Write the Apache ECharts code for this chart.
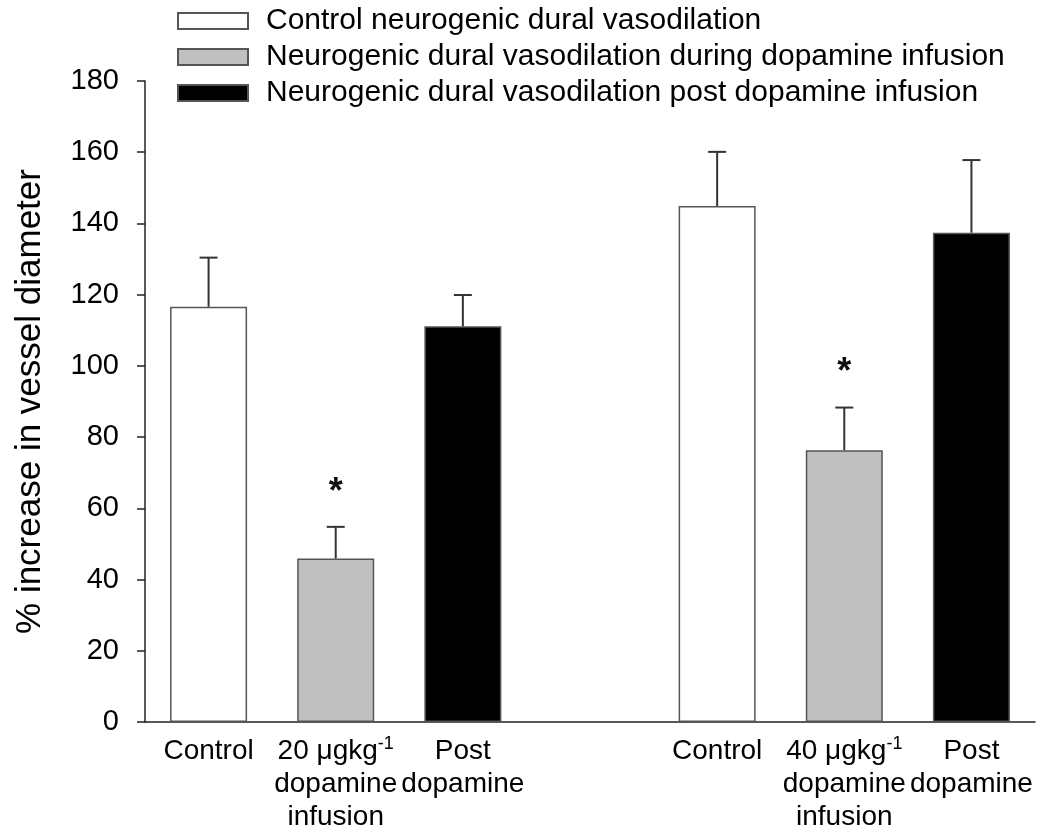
<!DOCTYPE html>
<html>
<head>
<meta charset="utf-8">
<script src="https://cdn.jsdelivr.net/npm/echarts@6/dist/echarts.min.js"></script>
<style>
  html, body { margin: 0; padding: 0; background: #fff; }
  #main { width: 1054px; height: 838px; }
</style>
</head>
<body>
<div id="main"></div>
<script>
var categories = [
  'Control', '20 {mu|μ}gkg{sup|-1}\ndopamine\ninfusion', 'Post\ndopamine', '',
  'Control', '40 {mu|μ}gkg{sup|-1}\ndopamine\ninfusion', 'Post\ndopamine'
];
var seriesNames = [
  'Control neurogenic dural vasodilation',
  'Neurogenic dural vasodilation during dopamine infusion',
  'Neurogenic dural vasodilation post dopamine infusion'
];
// one value per dose group (20, 40 µg/kg)
var controlMean = [116.6, 144.9];
var controlSem = [13.8, 15.2];
var duringMean = [45.9, 76.3];
var duringSem = [8.9, 12.0];
var postMean = [111.1, 137.4];
var postSem = [8.8, 20.4];
var duringSig = [true, true];
// category slot of each bar
var controlSlot = [0, 4];
var duringSlot = [1, 5];
var postSlot = [2, 6];

var font = 'Liberation Sans';

function barData(mean, slot) {
  var d = categories.map(function () { return '-'; });
  mean.forEach(function (v, i) { d[slot[i]] = v; });
  return d;
}
function errData(mean, sem, slot, sig) {
  return mean.map(function (v, i) {
    return [slot[i], v, sem[i], sig && sig[i] ? 1 : 0];
  });
}

var errRows = []
  .concat(errData(controlMean, controlSem, controlSlot))
  .concat(errData(duringMean, duringSem, duringSlot, duringSig))
  .concat(errData(postMean, postSem, postSlot));

var barBorder = { borderColor: '#555', borderWidth: 1.5 };

var myChart = echarts.init(document.getElementById('main'));
var option = {
  animation: false,
  backgroundColor: '#fff',
  textStyle: { fontFamily: font },
  legend: {
    orient: 'vertical',
    left: 172,
    top: 1,
    itemWidth: 70,
    itemHeight: 16,
    itemGap: 6,
    icon: 'rect',
    data: seriesNames,
    textStyle: { fontFamily: font, fontSize: 30, color: '#000', padding: [0, 0, 0, 13] }
  },
  grid: { left: 145, right: 19, top: 81, bottom: 116 },
  xAxis: {
    type: 'category',
    data: categories,
    axisTick: { show: false },
    axisLine: { lineStyle: { color: '#222', width: 1.5 } },
    axisLabel: {
      interval: 0,
      margin: 13,
      fontFamily: font,
      fontSize: 28,
      lineHeight: 33,
      color: '#000',
      rich: {
        mu: { fontFamily: font, fontSize: 28, color: '#000' },
        sup: { fontFamily: font, fontSize: 18, color: '#000', verticalAlign: 'top', lineHeight: 33, padding: [0, 0, 12, 0] }
      }
    }
  },
  yAxis: {
    type: 'value',
    min: 0,
    max: 180,
    interval: 20,
    name: '% increase in vessel diameter',
    nameLocation: 'middle',
    nameGap: 97,
    nameTextStyle: { fontFamily: font, fontSize: 35, color: '#000' },
    axisLine: { show: true, lineStyle: { color: '#222', width: 1.5 } },
    axisTick: { show: true, length: 8, lineStyle: { color: '#222', width: 1.5 } },
    splitLine: { show: false },
    axisLabel: { margin: 26, fontFamily: font, fontSize: 29, color: '#000' }
  },
  series: [
    {
      name: seriesNames[0],
      type: 'bar',
      barWidth: 77,
      barGap: '-100%',
      itemStyle: Object.assign({ color: '#ffffff' }, barBorder),
      data: barData(controlMean, controlSlot)
    },
    {
      name: seriesNames[1],
      type: 'bar',
      barWidth: 77,
      barGap: '-100%',
      itemStyle: Object.assign({ color: '#c0c0c0' }, barBorder),
      data: barData(duringMean, duringSlot)
    },
    {
      name: seriesNames[2],
      type: 'bar',
      barWidth: 77,
      barGap: '-100%',
      itemStyle: Object.assign({ color: '#000000' }, barBorder),
      data: barData(postMean, postSlot)
    },
    {
      type: 'custom',
      z: 5,
      silent: true,
      encode: { x: 0, y: 1 },
      data: errRows,
      renderItem: function (params, api) {
        var x = api.value(0), m = api.value(1), e = api.value(2), sig = api.value(3);
        var p0 = api.coord([x, m]);
        var p1 = api.coord([x, m + e]);
        var st = { stroke: '#333', lineWidth: 2 };
        var kids = [
          { type: 'line', shape: { x1: p0[0], y1: p0[1], x2: p1[0], y2: p1[1] }, style: st },
          { type: 'line', shape: { x1: p1[0] - 9, y1: p1[1], x2: p1[0] + 9, y2: p1[1] }, style: st }
        ];
        if (sig) {
          kids.push({
            type: 'text',
            style: {
              text: '*', x: p1[0], y: p1[1] - 34,
              align: 'center', verticalAlign: 'middle',
              font: 'bold 36px "Liberation Sans"', fill: '#111'
            }
          });
        }
        return { type: 'group', children: kids };
      }
    }
  ]
};
myChart.setOption(option);
</script>
</body>
</html>
